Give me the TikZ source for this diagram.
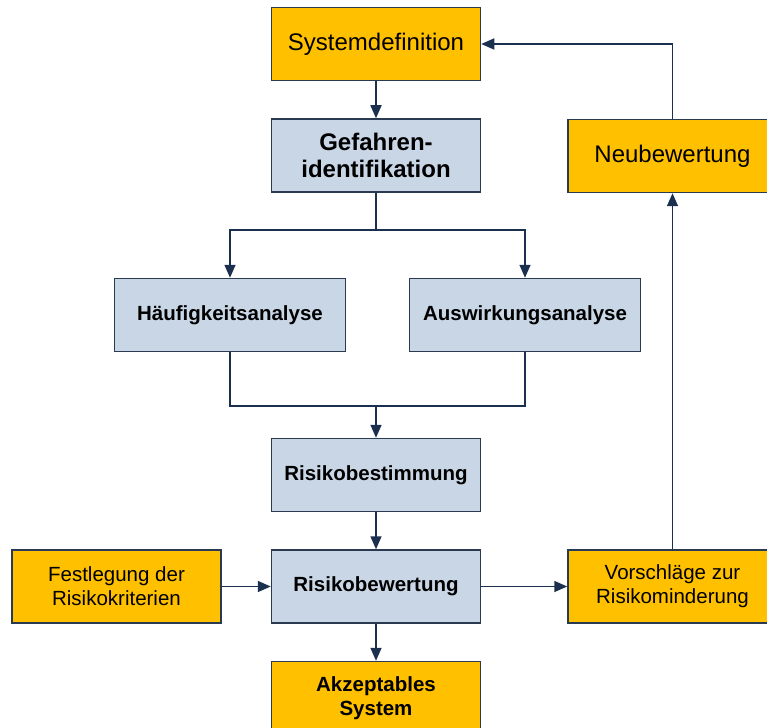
\documentclass[tikz,border=0pt]{standalone}
\usepackage{fontspec}
\setmainfont{Liberation Sans}
\usepackage{tikz}
\usetikzlibrary{arrows.meta,positioning}

\definecolor{boxorange}{HTML}{FFC000}
\definecolor{boxblue}{HTML}{C9D6E6}
\definecolor{boxline}{HTML}{2A3A50}
\definecolor{arrowline}{HTML}{1B2F4E}

\tikzset{
  base/.style={draw=boxline, line width=1.5pt, minimum width=209pt, minimum height=73pt, align=center, inner sep=2pt},
  orangebox/.style={base, fill=boxorange, font=\fontsize{20.5}{24}\selectfont},
  bluebox/.style={base, fill=boxblue, font=\fontsize{20.5}{24}\selectfont\bfseries},
  conn/.style={draw=arrowline, line width=1.6pt}
}

\begin{document}
\begin{tikzpicture}[->,>={Triangle[length=13pt,width=11pt]}, x=1pt, y=1pt]
  \useasboundingbox (0,0) rectangle (767,-727);

  \node [orangebox, font=\fontsize{24}{28}\selectfont] (sysdef) at (376,-44) {Systemdefinition};
  \node [bluebox, font=\fontsize{24}{27}\selectfont\bfseries, below=37pt of sysdef] (gefahr) {Gefahren-\\identifikation};
  \node [bluebox, minimum width=231pt, below=85pt of gefahr, xshift=-146pt] (haeuf) {Häufigkeitsanalyse};
  \node [bluebox, minimum width=231pt, below=85pt of gefahr, xshift=149pt] (ausw) {Auswirkungsanalyse};
  \node [bluebox, below=245pt of gefahr] (bestimm) {Risikobestimmung};
  \node [bluebox, below=37pt of bestimm] (bewert) {Risikobewertung};
  \node [orangebox, font=\fontsize{20.5}{24}\selectfont\bfseries, below=37pt of bewert] (akzept) {Akzeptables\\System};
  \node [orangebox, left=49pt of bewert] (festl) {Festlegung der\\Risikokriterien};
  \node [orangebox, right=86pt of bewert] (vorschl) {Vorschläge zur\\Risikominderung};
  \node [orangebox, font=\fontsize{24}{28}\selectfont, above=356pt of vorschl] (neubew) {Neubewertung};

  \coordinate [below=37pt of gefahr] (split);
  \coordinate [above=32pt of bestimm] (merge);

  \draw[conn] (sysdef) -- (gefahr);
  \draw[conn,-] (gefahr) -- (split);
  \draw[conn] (split) -| (haeuf);
  \draw[conn] (split) -| (ausw);

  \draw[conn,-] (haeuf) |- (merge);
  \draw[conn,-] (ausw) |- (merge);
  \draw[conn] (merge) -- (bestimm);

  \draw[conn] (bestimm) -- (bewert);
  \draw[conn] (bewert) -- (akzept);
  \draw[conn] (festl) -- (bewert);
  \draw[conn] (bewert) -- (vorschl);
  \draw[conn] (vorschl) -- (neubew);
  \draw[conn] (neubew) |- (sysdef);

\end{tikzpicture}
\end{document}
